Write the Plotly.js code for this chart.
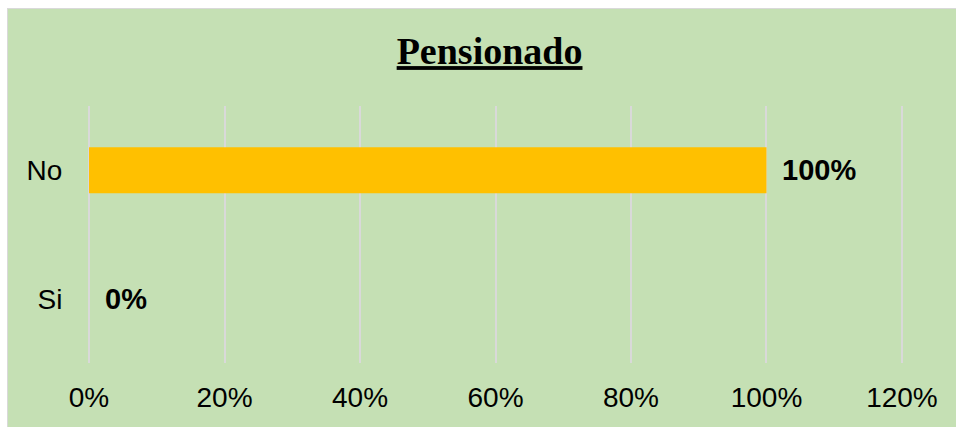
<!DOCTYPE html>
<html>
<head>
<meta charset="utf-8">
<script src="https://cdn.plot.ly/plotly-3.0.1.min.js"></script>
<style>
  html, body { margin: 0; padding: 0; background: #ffffff; width: 956px; height: 427px; overflow: hidden; }
  #frame { position: absolute; left: 7px; top: 8px; width: 949px; height: 419px; background: #d9d9d9; }
  #chart { position: absolute; left: 8px; top: 9px; width: 948px; height: 418px; background: #C5E0B4; }
</style>
</head>
<body>
<div id="frame"></div>
<div id="chart"></div>
<script>
const categories = ["Si", "No"];
const values = [0, 1];
const valueLabels = ["0%", "100%"];
const xTickValues = [0, 0.2, 0.4, 0.6, 0.8, 1.0, 1.2];
const xTickLabels = ["0%", "20%", "40%", "60%", "80%", "100%", "120%"];
const chartTitle = "Pensionado";

const trace = {
  type: "bar",
  orientation: "h",
  y: categories,
  x: values,
  marker: { color: "#FFC000" },
  hoverinfo: "none"
};

const annotations = categories.map((c, i) => ({
  x: values[i], y: c, xref: "x", yref: "y",
  text: "<b>" + valueLabels[i] + "</b>",
  showarrow: false, xanchor: "left", yanchor: "middle", xshift: 14,
  font: { family: "Liberation Sans, Arial, sans-serif", size: 29, color: "#000000" }
}));

const layout = {
  width: 948, height: 418,
  paper_bgcolor: "rgba(0,0,0,0)",
  plot_bgcolor: "rgba(0,0,0,0)",
  margin: { l: 79, r: 52, t: 97, b: 64 },
  showlegend: false,
  bargap: 0.642,
  title: {
    text: "<b><u>" + chartTitle + "</u></b>",
    font: { family: "Liberation Serif, Times New Roman, serif", size: 38, color: "#000000" },
    x: 0.508, xref: "container", xanchor: "center",
    y: 0.9, yref: "container", yanchor: "middle"
  },
  xaxis: {
    range: [-0.003, 1.203],
    tickvals: xTickValues,
    ticktext: xTickLabels,
    showgrid: true, gridcolor: "#d9d9d9", gridwidth: 2,
    zeroline: false, showline: false,
    ticks: "outside", ticklen: 9, tickcolor: "rgba(0,0,0,0)",
    tickfont: { family: "Liberation Sans, Arial, sans-serif", size: 28, color: "#000000" },
    fixedrange: true
  },
  yaxis: {
    categoryorder: "array", categoryarray: categories,
    showgrid: false, zeroline: false, showline: false,
    ticks: "outside", ticklen: 18, tickcolor: "rgba(0,0,0,0)",
    tickfont: { family: "Liberation Sans, Arial, sans-serif", size: 28, color: "#000000" },
    fixedrange: true
  },
  annotations: annotations
};

Plotly.newPlot("chart", [trace], layout, { displayModeBar: false, staticPlot: true });
</script>
</body>
</html>
